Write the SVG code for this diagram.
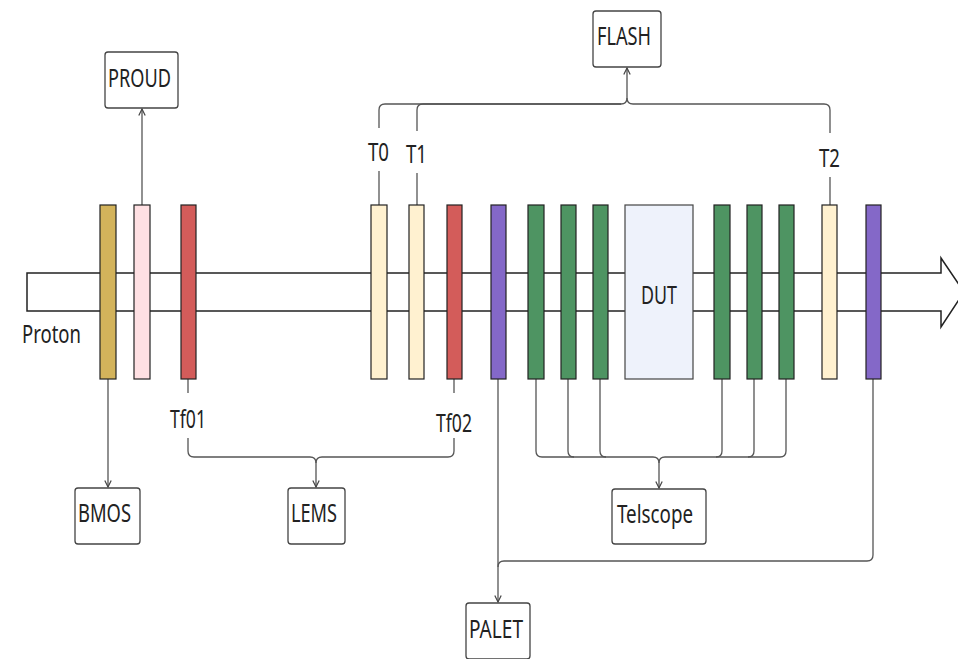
<svg xmlns="http://www.w3.org/2000/svg" width="958" height="659" viewBox="0 0 958 659">
<style>
.lbl{font-family:"Noto Sans","Open Sans",sans-serif;font-size:26px;fill:#222;}
.box{fill:#fff;stroke:#444;stroke-width:1.3;}
.bar{stroke:#222;stroke-width:1.2;}
.gold{fill:#d3b35b;}
.pink{fill:#ffe0e3;}
.red{fill:#d35c5a;}
.cream{fill:#fff1d0;}
.purple{fill:#8468c8;}
.green{fill:#4e9462;}
.conn path{fill:none;stroke:#555;stroke-width:1.3;}
</style>
<defs>
<marker id="arr" viewBox="0 0 10 10" refX="9" refY="5" markerWidth="8" markerHeight="8" markerUnits="userSpaceOnUse" orient="auto">
<path d="M1,1 L9,5 L1,9" fill="none" stroke="#444" stroke-width="1.5"/>
</marker>
</defs>
<rect width="958" height="659" fill="#fff"/>

<g id="beam">
<path d="M27,273 H941 V258 L964,292 L941,327 V311 H27 Z" fill="#fff" stroke="#222" stroke-width="1.5"/>
<text class="lbl" x="22" y="343" textLength="59" lengthAdjust="spacingAndGlyphs">Proton</text>
</g>

<g id="connectors" class="conn">
<path d="M142,205 V109" marker-end="url(#arr)"/>
<path d="M108,379 V487" marker-end="url(#arr)"/>
<path d="M379,205 V171"/>
<path d="M379,128 V110 Q379,104 385,104 H621 Q627,104 627,98 V68" marker-end="url(#arr)"/>
<path d="M417,205 V173"/>
<path d="M417,131 V110 Q417,104 423,104 H621"/>
<path d="M830,205 V177"/>
<path d="M830,133 V110 Q830,104 824,104 H633 Q627,104 627,98"/>
<path d="M188,379 V393"/>
<path d="M188,438 V451 Q188,457 194,457 H310 Q316,457 316,463 V487" marker-end="url(#arr)"/>
<path d="M454,379 V393"/>
<path d="M454,438 V451 Q454,457 448,457 H322 Q316,457 316,463"/>
<path d="M536,379 V451 Q536,457 542,457 H653 Q659,457 659,463 V488" marker-end="url(#arr)"/>
<path d="M568,379 V451 Q568,457 574,457"/>
<path d="M600,379 V451 Q600,457 606,457"/>
<path d="M786,379 V451 Q786,457 780,457 H665 Q659,457 659,463"/>
<path d="M754,379 V451 Q754,457 748,457"/>
<path d="M722,379 V451 Q722,457 716,457"/>
<path d="M498,379 V602" marker-end="url(#arr)"/>
<path d="M873,379 V555 Q873,561 867,561 H504 Q498,561 498,567"/>
</g>

<g id="bmos-bar"><rect class="bar gold" x="100" y="205" width="16" height="174"/></g>
<g id="proud-bar"><rect class="bar pink" x="134" y="205" width="16" height="174"/></g>
<g id="tf01-bar"><rect class="bar red" x="181" y="205" width="15" height="174"/></g>
<g id="t0-bar"><rect class="bar cream" x="371" y="205" width="16" height="174"/></g>
<g id="t1-bar"><rect class="bar cream" x="409" y="205" width="15" height="174"/></g>
<g id="tf02-bar"><rect class="bar red" x="447" y="205" width="15" height="174"/></g>
<g id="palet-bar1"><rect class="bar purple" x="491" y="205" width="15" height="174"/></g>
<g id="tel1"><rect class="bar green" x="528" y="205" width="16" height="174"/></g>
<g id="tel2"><rect class="bar green" x="561" y="205" width="15" height="174"/></g>
<g id="tel3"><rect class="bar green" x="593" y="205" width="15" height="174"/></g>
<g id="dut">
<rect x="625" y="205" width="68" height="174" fill="#eef2fb" stroke="#444" stroke-width="1.2"/>
<text class="lbl" x="641" y="304" textLength="36" lengthAdjust="spacingAndGlyphs">DUT</text>
</g>
<g id="tel4"><rect class="bar green" x="714" y="205" width="16" height="174"/></g>
<g id="tel5"><rect class="bar green" x="747" y="205" width="15" height="174"/></g>
<g id="tel6"><rect class="bar green" x="779" y="205" width="15" height="174"/></g>
<g id="t2-bar"><rect class="bar cream" x="822" y="205" width="15" height="174"/></g>
<g id="palet-bar2"><rect class="bar purple" x="866" y="205" width="15" height="174"/></g>

<g id="label-t0"><text class="lbl" x="368" y="161" textLength="21" lengthAdjust="spacingAndGlyphs">T0</text></g>
<g id="label-t1"><text class="lbl" x="406" y="163" textLength="21" lengthAdjust="spacingAndGlyphs">T1</text></g>
<g id="label-t2"><text class="lbl" x="819" y="167" textLength="21" lengthAdjust="spacingAndGlyphs">T2</text></g>
<g id="label-tf01"><text class="lbl" x="170" y="428" textLength="36" lengthAdjust="spacingAndGlyphs">Tf01</text></g>
<g id="label-tf02"><text class="lbl" x="436" y="432" textLength="36" lengthAdjust="spacingAndGlyphs">Tf02</text></g>

<g id="proud">
<rect class="box" x="105" y="52" width="73" height="56" rx="3"/>
<text class="lbl" x="108" y="87" textLength="63" lengthAdjust="spacingAndGlyphs">PROUD</text>
</g>
<g id="flash">
<rect class="box" x="593" y="11" width="68" height="56" rx="3"/>
<text class="lbl" x="597" y="45" textLength="54" lengthAdjust="spacingAndGlyphs">FLASH</text>
</g>
<g id="bmos">
<rect class="box" x="75" y="488" width="65" height="56" rx="3"/>
<text class="lbl" x="78" y="522" textLength="53" lengthAdjust="spacingAndGlyphs">BMOS</text>
</g>
<g id="lems">
<rect class="box" x="288" y="488" width="57" height="56" rx="3"/>
<text class="lbl" x="291" y="522" textLength="46" lengthAdjust="spacingAndGlyphs">LEMS</text>
</g>
<g id="telscope">
<rect class="box" x="612" y="489" width="94" height="55" rx="3"/>
<text class="lbl" x="617" y="523" textLength="76" lengthAdjust="spacingAndGlyphs">Telscope</text>
</g>
<g id="palet">
<rect class="box" x="466" y="603" width="64" height="56" rx="3"/>
<text class="lbl" x="469" y="638" textLength="54" lengthAdjust="spacingAndGlyphs">PALET</text>
</g>
</svg>
